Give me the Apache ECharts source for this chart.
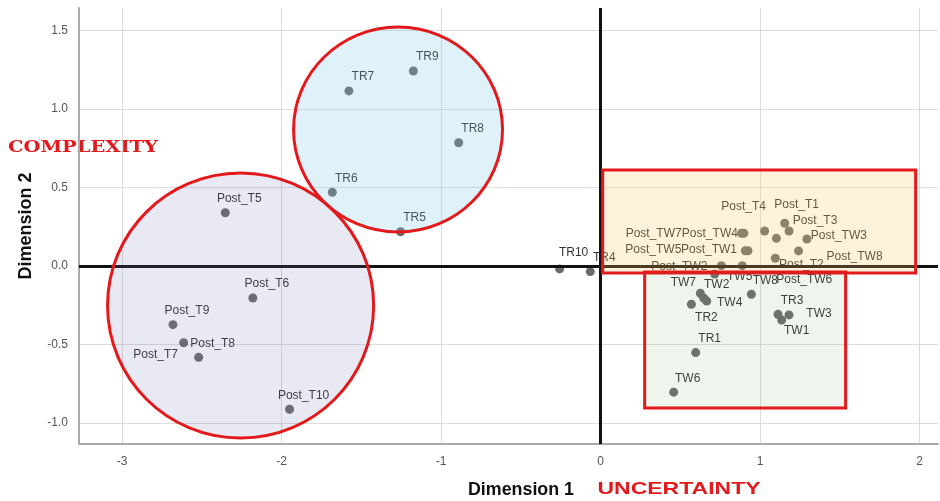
<!DOCTYPE html>
<html>
<head>
<meta charset="utf-8">
<title>Dimension 1 / Dimension 2</title>
<script src="https://cdn.jsdelivr.net/npm/echarts@6/dist/echarts.min.js"></script>
<style>
  html, body { margin: 0; padding: 0; background: #fff; }
  #chart-dims { width: 940px; height: 501px; }
</style>
</head>
<body>
<div id="chart-dims"></div>
<script>
// 点的名字和坐标 (Dimension 1, Dimension 2)
var pointNames = [
    'Post_T5', 'Post_T6', 'Post_T9', 'Post_T7', 'Post_T8', 'Post_T10',
    'TR5', 'TR6', 'TR7', 'TR8', 'TR9', 'TR10', 'TR4',
    'Post_T1', 'Post_T3', 'Post_T4', '', 'Post_TW3', 'Post_TW7', 'Post_TW4',
    'Post_TW5', 'Post_TW1', 'Post_TW8', 'Post_T2', 'Post_TW2', 'Post_TW6',
    'TW5', 'TW7', 'TW2', 'TW4', 'TR2', 'TW8', 'TR3', 'TW1', 'TW3', 'TR1', 'TW6'
];
var dim1 = [
    -2.353, -2.180, -2.681, -2.614, -2.520, -1.950,
    -1.254, -1.682, -1.578, -0.890, -1.174, -0.257, -0.065,
    1.154, 1.181, 1.028, 1.102, 1.293, 0.884, 0.898,
    0.907, 0.924, 1.241, 1.095, 0.757, 0.888,
    0.715, 0.625, 0.646, 0.665, 0.569, 0.945, 1.112, 1.135, 1.181, 0.596, 0.458
];
var dim2 = [
    0.339, -0.204, -0.374, -0.489, -0.582, -0.913,
    0.218, 0.469, 1.115, 0.785, 1.242, -0.019, -0.036,
    0.272, 0.223, 0.223, 0.176, 0.172, 0.208, 0.208,
    0.097, 0.097, 0.096, 0.049, 0.002, 0.002,
    -0.051, -0.174, -0.204, -0.223, -0.244, -0.180, -0.308, -0.344, -0.312, -0.552, -0.804
];

// 注释区域: 圆 [cx, cy, rx, ry], 矩形 [x1, y1, x2, y2] (数据坐标)
var regionCircles = [
    [-2.257, -0.252, 0.834, 0.844],
    [-1.270, 0.869, 0.655, 0.653]
];
var regionBoxes = [
    [0.013, 0.611, 1.975, -0.045],
    [0.276, -0.038, 1.536, -0.904]
];

// 样式
var circleFills = ['rgba(110,120,180,0.16)', 'rgba(120,200,235,0.24)'];
var boxFills = ['rgba(250,200,100,0.24)', 'rgba(120,170,110,0.12)'];
var outlineRed = '#e3191c';
var symbolSize = 9;
// 标签中心相对于点中心的像素偏移
var labelNudge = {
    'TR10': [14, -16], 'TW1': [15, 11], 'TW3': [30, -1], 'TR2': [15, 13],
    'TW4': [23, 2], 'TW2': [13, -13], 'TW7': [-17, -11], 'TW5': [25, 3],
    'Post_TW6': [62, 14], 'Post_TW2': [-42, 1], 'Post_T2': [26, 6],
    'Post_TW8': [56, 6], 'Post_TW3': [32, -3], 'Post_T3': [26, -10],
    'Post_T1': [12, -19], 'Post_T4': [-21, -24], 'Post_TW4': [-34, 0],
    'Post_TW7': [-88, 0], 'Post_TW1': [-39, -1], 'Post_TW5': [-92, -1],
    'Post_T7': [-28, 12]
};

var chartDims = echarts.init(document.getElementById('chart-dims'), null, {renderer: 'canvas'});

var pointData = pointNames.map(function (name, i) {
    var off = labelNudge[name] || [14, -14];
    return {
        name: name,
        value: [dim1[i], dim2[i]],
        label: {
            position: [symbolSize / 2 + off[0], symbolSize / 2 + off[1]],
            align: 'center',
            verticalAlign: 'middle'
        }
    };
});

// 文字宽度适配 (模拟原图的宽字体)
var measureCtx = document.createElement('canvas').getContext('2d');
function fitScale(text, font, width) {
    measureCtx.font = font;
    return width / measureCtx.measureText(text).width;
}

function textEl(text, x, y, family, size, color, width, rotation) {
    return {
        type: 'text',
        x: x,
        y: y,
        rotation: rotation || 0,
        scaleX: fitScale(text, 'bold ' + size + 'px "' + family + '"', width),
        style: {
            text: text, fontFamily: family, fontSize: size, fontWeight: 'bold',
            fill: color, align: 'center', verticalAlign: 'middle'
        }
    };
}

function renderCircle(params, api) {
    var c = api.coord([api.value(0), api.value(1)]);
    var s = api.size([api.value(2), api.value(3)]);
    return {
        type: 'ellipse',
        shape: {cx: c[0], cy: c[1], rx: s[0], ry: s[1]},
        style: {fill: circleFills[params.dataIndex], stroke: outlineRed, lineWidth: 3}
    };
}

function renderBox(params, api) {
    var p1 = api.coord([api.value(0), api.value(1)]);
    var p2 = api.coord([api.value(2), api.value(3)]);
    return {
        type: 'rect',
        shape: {x: p1[0], y: p1[1], width: p2[0] - p1[0], height: p2[1] - p1[1]},
        style: {fill: boxFills[params.dataIndex], stroke: outlineRed, lineWidth: 3}
    };
}

var optionDims = {
    animation: false,
    grid: {left: 79, right: 2, top: 8, bottom: 57, containLabel: false, outerBoundsMode: 'none'},
    xAxis: {
        type: 'value',
        min: -3.27,
        max: 2.115,
        axisLine: {show: true, onZero: false, lineStyle: {color: '#a9a9a9', width: 2}},
        axisTick: {show: false},
        axisLabel: {
            color: '#555', fontSize: 12, margin: 12, fontFamily: 'Liberation Sans',
            showMinLabel: false, showMaxLabel: false
        },
        splitLine: {show: true, showMinLine: false, showMaxLine: false, lineStyle: {color: '#dcdcdc', width: 1}}
    },
    yAxis: {
        type: 'value',
        min: -1.134,
        max: 1.643,
        axisLine: {show: true, onZero: false, lineStyle: {color: '#a9a9a9', width: 2}},
        axisTick: {show: false},
        axisLabel: {
            color: '#555', fontSize: 12, margin: 11, fontFamily: 'Liberation Sans',
            showMinLabel: false, showMaxLabel: false,
            formatter: function (v) { return v.toFixed(1); }
        },
        splitLine: {show: true, showMinLine: false, showMaxLine: false, lineStyle: {color: '#dcdcdc', width: 1}}
    },
    graphic: [
        textEl('COMPLEXITY', 83, 148, 'DejaVu Serif', 16, outlineRed, 150),
        textEl('UNCERTAINTY', 679, 489, 'Liberation Sans', 17, outlineRed, 163),
        textEl('Dimension 1', 521, 490, 'Liberation Sans', 18, '#111', 106),
        textEl('Dimension 2', 26, 226, 'Liberation Sans', 18, '#111', 107, Math.PI / 2)
    ],
    series: [
        {
            name: 'points',
            type: 'scatter',
            symbolSize: symbolSize,
            z: 3,
            itemStyle: {color: '#6b6b6b', opacity: 1},
            label: {
                show: true,
                formatter: '{b}',
                color: '#333',
                fontSize: 12,
                fontFamily: 'Liberation Sans'
            },
            labelLayout: {hideOverlap: false},
            data: pointData,
            markLine: {
                silent: true,
                symbol: 'none',
                z: 4,
                label: {show: false},
                lineStyle: {color: '#111', width: 3, type: 'solid'},
                emphasis: {disabled: true},
                data: [{xAxis: 0}, {yAxis: 0}]
            }
        },
        {
            name: 'circles',
            type: 'custom',
            z: 10,
            silent: true,
            clip: false,
            renderItem: renderCircle,
            encode: {x: 0, y: 1},
            data: regionCircles
        },
        {
            name: 'boxes',
            type: 'custom',
            z: 10,
            silent: true,
            clip: false,
            renderItem: renderBox,
            encode: {x: 0, y: 1},
            data: regionBoxes
        }
    ]
};

chartDims.setOption(optionDims);
</script>
</body>
</html>
